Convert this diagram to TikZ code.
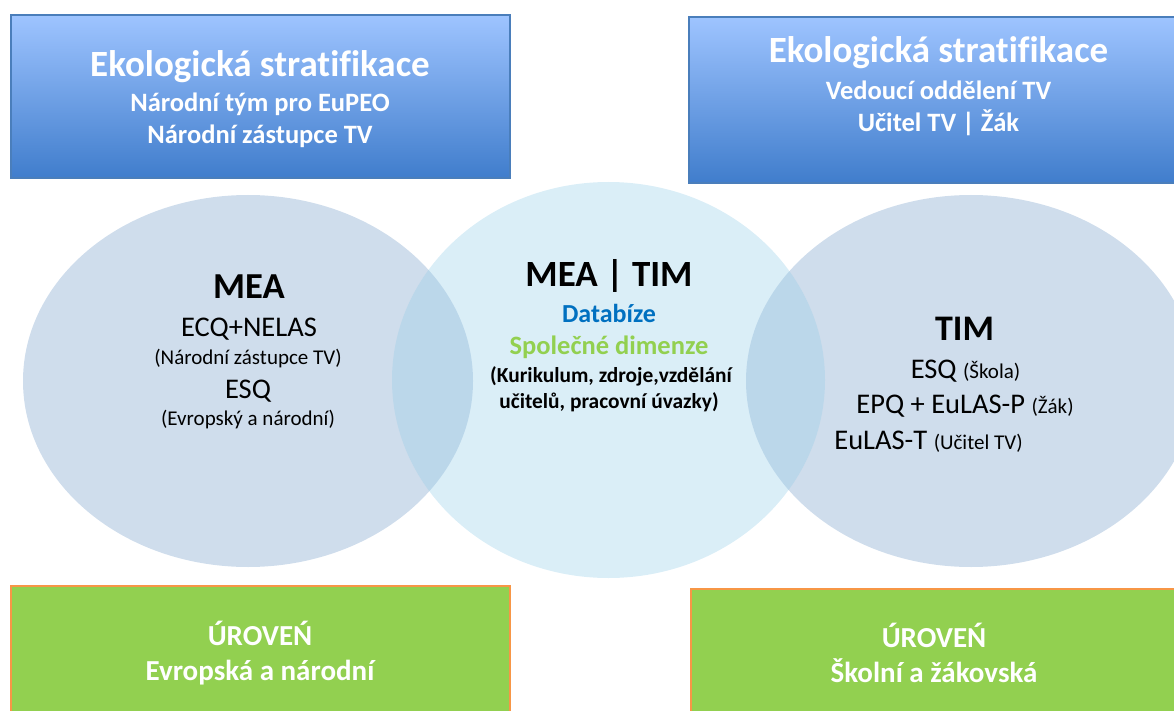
\documentclass[tikz,border=0pt]{standalone}
\usepackage{fontspec}
\setmainfont{Carlito}[Ligatures={TeX,NoCommon}]
\usetikzlibrary{shapes.geometric}
\definecolor{boxtop}{RGB}{158,196,255}
\definecolor{boxbot}{RGB}{64,125,204}
\definecolor{boxline}{RGB}{74,126,187}
\definecolor{ellfill}{RGB}{207,221,236}
\definecolor{circfill}{RGB}{150,205,232}
\definecolor{lvlgreen}{RGB}{146,208,80}
\definecolor{lvlline}{RGB}{247,150,70}
\definecolor{dbblue}{RGB}{0,112,192}
\newcommand\fsTitle{\fontsize{37}{44}\selectfont\bfseries}
\newcommand\fsSub{\fontsize{26.5}{32}\selectfont\bfseries}
\newcommand\fsLvl{\fontsize{29}{35}\selectfont\bfseries}
\newcommand\fsBig{\fontsize{28.5}{34}\selectfont}
\newcommand\fsSmall{\fontsize{21}{25}\selectfont}
\newcommand\fsMid{\fontsize{21.4}{26}\selectfont\bfseries}
\begin{document}
\begin{tikzpicture}[x=1pt,y=-1pt,
  bluebox/.style={rectangle, draw=boxline, line width=1.2pt, top color=boxtop, bottom color=boxbot, inner sep=0pt, outer sep=0pt},
  greenbox/.style={rectangle, draw=lvlline, fill=lvlgreen, line width=1.5pt, inner sep=0pt, outer sep=0pt},
  outerell/.style={ellipse, fill=ellfill, inner sep=0pt, minimum width=450pt, minimum height=372pt},
  midcirc/.style={ellipse, fill=circfill, fill opacity=0.35, inner sep=0pt, minimum width=433pt, minimum height=396pt},
  txt/.style={anchor=base, inner sep=0pt},
  wtxt/.style={txt, text=white},
]
\useasboundingbox (0,0) rectangle (1174,711);
\clip (0,0) rectangle (1174,711);

% top boxes
\node[bluebox, minimum width=499pt, minimum height=163pt] (lbox) at (260.5,96.5) {};
\node[bluebox, minimum width=496pt, minimum height=166pt] (rbox) at (937,100) {};
\node[wtxt] (lt1) at (260,77) {\fsTitle Ekologická stratifikace};
\node[wtxt] (lt2) at (260,111.7) {\fsSub Národní tým pro EuPEO};
\node[wtxt] (lt3) at (260,143.3) {\fsSub Národní zástupce TV};
\node[wtxt] (rt1) at (938.5,62.7) {\fsTitle Ekologická stratifikace};
\node[wtxt] (rt2) at (938.5,99.3) {\fsSub Vedoucí oddělení TV};
\node[wtxt] (rt3) at (938.5,131.7) {\fsSub Učitel TV | Žák};

% ellipses
\node[outerell] (lell) at (248,381) {};
\node[outerell] (rell) at (971,381) {};
\node[midcirc] (mell) at (608.5,380) {};

% left ellipse text
\node[txt] (m1) at (249,298.3) {\fontsize{36.6}{44}\selectfont\bfseries MEA};
\node[txt] (m2) at (249,336) {\fsBig ECQ+NELAS};
\node[txt] (m3) at (248,364) {\fsSmall (Národní zástupce TV)};
\node[txt] (m4) at (248,398) {\fsBig ESQ};
\node[txt] (m5) at (248,425) {\fsSmall (Evropský a národní)};

% centre text
\node[txt] (c1) at (609,286.7) {\fsTitle MEA | TIM};
\node[txt, text=dbblue] (c2) at (609,322.7) {\fontsize{26}{31}\selectfont\bfseries Databíze};
\node[txt, text=lvlgreen] (c3) at (609,354) {\fsSub Společné dimenze};
\node[txt] (c4) at (611,382) {\fsMid (Kurikulum, zdroje,vzdělání};
\node[txt] (c5) at (609,408.7) {\fsMid učitelů, pracovní úvazky)};

% right ellipse text
\node[txt] (t1) at (964.5,340) {\fontsize{36}{43}\selectfont\bfseries TIM};
\node[txt] (t2) at (965.5,378) {\fsBig ESQ \fsSmall(Škola)};
\node[txt] (t3) at (965,413) {\fsBig EPQ + EuLAS-P \fsSmall(Žák)};
\node[txt] (t4) at (928.5,449) {\fsBig EuLAS-T \fsSmall(Učitel TV)};

% level boxes
\node[greenbox, minimum width=499pt, minimum height=139pt] (lgreen) at (260.5,655.5) {};
\node[greenbox, minimum width=494pt, minimum height=136pt] (rgreen) at (938,657) {};
\node[wtxt] (lg1) at (260,645) {\fsLvl ÚROVEŃ};
\node[wtxt] (lg2) at (260,680) {\fsLvl Evropská a národní};
\node[wtxt] (rg1) at (934,647) {\fsLvl ÚROVEŃ};
\node[wtxt] (rg2) at (934,682) {\fsLvl Školní a žákovská};
\end{tikzpicture}
\end{document}
